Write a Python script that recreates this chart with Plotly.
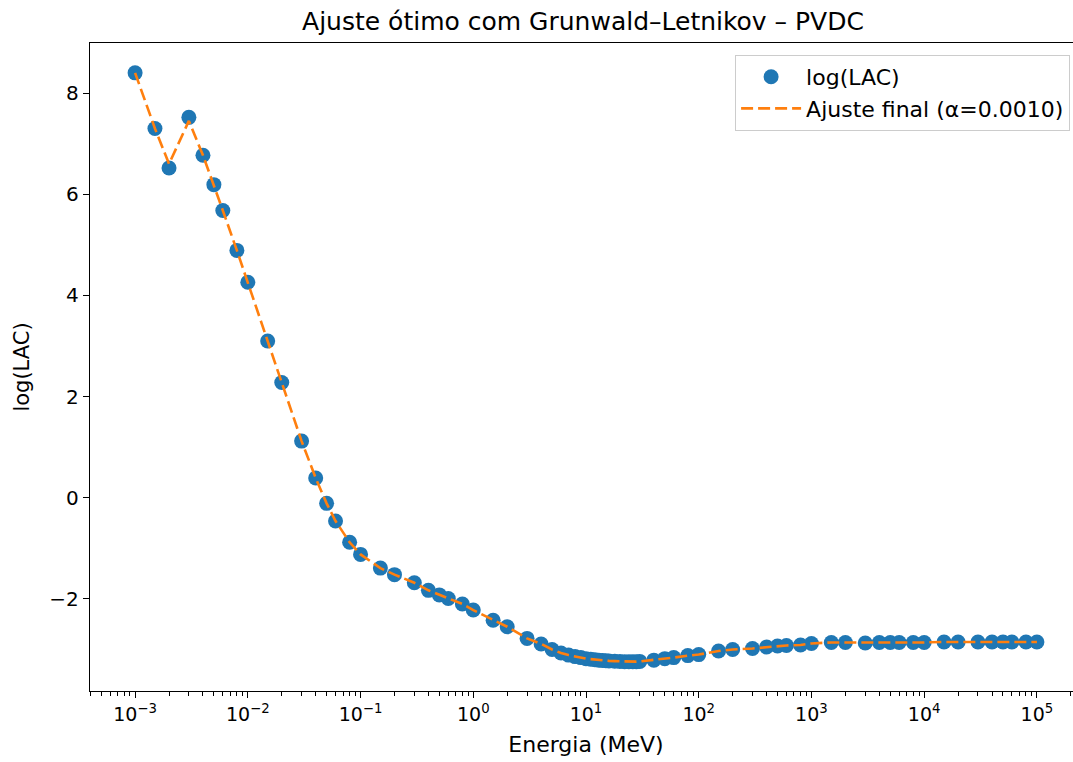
import plotly.graph_objects as go
import numpy as np

# ---- data ----
energy_mev = [1e-3, 1.5e-3, 2e-3, 3e-3, 4e-3, 5e-3, 6e-3, 8e-3,
              1e-2, 1.5e-2, 2e-2, 3e-2, 4e-2, 5e-2, 6e-2, 8e-2,
              0.1, 0.15, 0.2, 0.3, 0.4, 0.5, 0.6, 0.8,
              1, 1.5, 2, 3, 4, 5, 6, 7, 8, 9,
              10, 11, 12, 13, 14, 15, 16, 18, 20, 22, 24, 26, 28, 30, 40, 50, 60, 80,
              100, 150, 200, 300, 400, 500, 600, 800,
              1000, 1500, 2000, 3000, 4000, 5000, 6000, 8000,
              10000, 15000, 20000, 30000, 40000, 50000, 60000, 80000, 100000]

log_lac = [8.40, 7.30, 6.52, 7.52, 6.77, 6.19, 5.68, 4.89,
           4.26, 3.10, 2.28, 1.12, 0.39, -0.11, -0.46, -0.88,
           -1.12, -1.39, -1.52, -1.68, -1.83, -1.92, -1.99, -2.10,
           -2.22, -2.42, -2.55, -2.78, -2.89, -3.00, -3.07, -3.11, -3.14, -3.16,
           -3.18, -3.19, -3.20, -3.21, -3.215, -3.22, -3.225, -3.23, -3.235, -3.24,
           -3.24, -3.24, -3.24, -3.235, -3.21, -3.18, -3.16, -3.12,
           -3.10, -3.03, -3.00, -2.98, -2.95, -2.93, -2.92, -2.91,
           -2.88, -2.86, -2.86, -2.87, -2.86, -2.86, -2.86, -2.86,
           -2.86, -2.85, -2.85, -2.85, -2.85, -2.85, -2.85, -2.85, -2.85]

fit_lac = [8.40, 7.30, 6.60, 7.45, 6.77, 6.19, 5.68, 4.89,
           4.26, 3.10, 2.28, 1.12, 0.39, -0.11, -0.46, -0.88,
           -1.12, -1.39, -1.52, -1.68, -1.83, -1.92, -1.99, -2.10,
           -2.22, -2.42, -2.55, -2.78, -2.89, -3.00, -3.07, -3.11, -3.14, -3.16,
           -3.18, -3.19, -3.20, -3.21, -3.215, -3.22, -3.225, -3.23, -3.235, -3.24,
           -3.24, -3.24, -3.24, -3.235, -3.21, -3.18, -3.16, -3.12,
           -3.10, -3.03, -3.00, -2.98, -2.95, -2.93, -2.92, -2.91,
           -2.88, -2.86, -2.86, -2.87, -2.86, -2.86, -2.86, -2.86,
           -2.86, -2.85, -2.85, -2.85, -2.85, -2.85, -2.85, -2.85, -2.85]

x_tick_vals = [1e-3, 1e-2, 1e-1, 1e0, 1e1, 1e2, 1e3, 1e4, 1e5]
x_tick_text = ["10<sup>\u22123</sup>", "10<sup>\u22122</sup>", "10<sup>\u22121</sup>",
               "10<sup>0</sup>", "10<sup>1</sup>", "10<sup>2</sup>",
               "10<sup>3</sup>", "10<sup>4</sup>", "10<sup>5</sup>"]
y_tick_vals = [-2, 0, 2, 4, 6, 8]

X_RANGE_LOG = [-3.4, 5.4]
Y_RANGE = [-3.82, 8.99]

# minor log ticks (2..9 per decade) inside the visible range
minor_vals = []
for dec in range(-4, 6):
    for k in range(2, 10):
        v = k * 10.0 ** dec
        lv = np.log10(v)
        if X_RANGE_LOG[0] <= lv <= X_RANGE_LOG[1]:
            minor_vals.append(v)

FONT = "DejaVu Sans"
BLUE = "#1f77b4"
ORANGE = "#ff7f0e"

fig = go.Figure()
fig.add_trace(go.Scatter(
    x=energy_mev, y=log_lac, mode="markers", name="log(LAC)",
    marker=dict(color=BLUE, size=15, line=dict(width=0)),
))
fig.add_trace(go.Scatter(
    x=energy_mev, y=fit_lac, mode="lines", name="Ajuste final (\u03b1=0.0010)",
    line=dict(color=ORANGE, width=2.6, dash="12px,5px"),
))

fig.update_layout(
    width=1090, height=762,
    margin=dict(l=90, r=8, t=43, b=71),
    paper_bgcolor="white", plot_bgcolor="white",
    font=dict(family=FONT, color="black", size=19),
    title=dict(text="Ajuste \u00f3timo com Grunwald\u2013Letnikov \u2013 PVDC",
               font=dict(family=FONT, size=25, color="black"),
               x=583 / 1090, xanchor="center",
               y=1 - 21 / 762, yanchor="middle"),
    showlegend=True,
    legend=dict(x=0.988, y=0.9815, xanchor="right", yanchor="top",
                bgcolor="rgba(255,255,255,0.8)", bordercolor="#cccccc", borderwidth=1,
                font=dict(family=FONT, size=22, color="black"),
                itemwidth=60, tracegroupgap=0),
)

fig.update_xaxes(
    type="log", range=X_RANGE_LOG,
    tickmode="array", tickvals=x_tick_vals, ticktext=x_tick_text,
    ticks="outside", ticklen=6, tickwidth=1.2, tickcolor="black",
    tickfont=dict(family=FONT, size=19, color="black"),
    minor=dict(tickmode="array", tickvals=minor_vals, ticks="outside",
               ticklen=3.5, tickwidth=1, tickcolor="black", showgrid=False),
    showline=True, linecolor="black", linewidth=1.3, mirror=True,
    showgrid=False, zeroline=False,
    title=dict(text="Energia (MeV)", font=dict(family=FONT, size=22, color="black"), standoff=12),
    automargin=False,
)
fig.update_yaxes(
    range=Y_RANGE,
    tickmode="array", tickvals=y_tick_vals,
    ticks="outside", ticklen=6, tickwidth=1.2, tickcolor="black",
    tickfont=dict(family=FONT, size=20, color="black"),
    showline=True, linecolor="black", linewidth=1.3, mirror=True,
    showgrid=False, zeroline=False,
    title=dict(text="log(LAC)", font=dict(family=FONT, size=21, color="black"), standoff=14),
    automargin=False,
)

fig.write_html("out.html", config={"displayModeBar": False},
               post_script="document.body.style.margin='0';document.body.style.overflow='hidden';")
